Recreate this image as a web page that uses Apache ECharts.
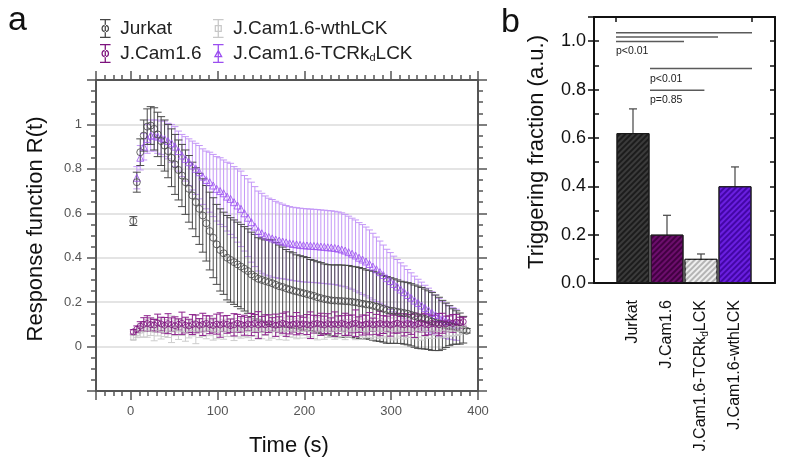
<!DOCTYPE html>
<html><head><meta charset="utf-8">
<script src="https://cdn.jsdelivr.net/npm/echarts@6/dist/echarts.min.js"></script>
<style>html,body{margin:0;padding:0;background:#fff}#c{width:787px;height:475px}</style>
</head><body><div id="c"></div>
<script>
// ---------- Panel a data ----------
const times = [3,7,11,15,19,23,27,31,35,39,43,47,51,55,59,63,67,71,75,79,83,87,91,95,99,103,107,111,115,119,123,127,131,135,139,143,147,151,155,159,163,167,171,175,179,183,187,191,195,199,203,207,211,215,219,223,227,231,235,239,243,247,251,255,259,263,267,271,275,279,283,287,291,295,299,303,307,311,315,319,323,327,331,335,339,343,347,351,355,359,363,367,371,375,379,383,387];

const jurkatVals = [
0.565,0.74,0.875,0.95,0.99,0.995,0.98,0.955,0.925,0.905,
0.88,0.85,0.82,0.795,0.77,0.74,0.71,0.68,0.65,0.62,
0.59,0.555,0.52,0.49,0.46,0.435,0.42,0.40,0.39,0.38,
0.37,0.36,0.35,0.34,0.325,0.315,0.305,0.30,0.295,0.29,
0.285,0.278,0.272,0.268,0.262,0.257,0.252,0.248,0.244,0.24,
0.236,0.232,0.228,0.222,0.218,0.214,0.211,0.208,0.207,0.206,
0.205,0.204,0.203,0.201,0.199,0.196,0.193,0.19,0.188,0.184,
0.18,0.175,0.17,0.165,0.162,0.16,0.157,0.154,0.151,0.148,
0.143,0.137,0.132,0.128,0.124,0.119,0.113,0.107,0.102,0.098,
0.096,0.094,0.09,0.086,0.081,0.076,0.071];
const jurkatErr = [
0.02,0.045,0.06,0.07,0.08,0.085,0.095,0.10,0.11,0.115,
0.12,0.13,0.135,0.135,0.14,0.145,0.15,0.15,0.155,0.16,
0.165,0.17,0.175,0.18,0.18,0.185,0.185,0.19,0.19,0.19,
0.19,0.19,0.19,0.19,0.19,0.19,0.185,0.185,0.185,0.19,
0.195,0.19,0.185,0.18,0.175,0.17,0.17,0.165,0.165,0.165,
0.165,0.16,0.16,0.16,0.16,0.158,0.158,0.16,0.16,0.162,
0.162,0.162,0.162,0.16,0.16,0.16,0.158,0.155,0.155,0.155,
0.155,0.152,0.15,0.15,0.148,0.145,0.143,0.14,0.14,0.14,
0.14,0.14,0.14,0.138,0.135,0.132,0.13,0.125,0.12,0.11,
0.10,0.09,0.08,0.075,0.07,0.06,0.01];

const jcamVals = [
0.066,0.078,0.092,0.100,0.104,0.099,0.097,0.106,0.102,0.096,
0.103,0.099,0.094,0.100,0.105,0.097,0.093,0.099,0.102,0.096,
0.100,0.104,0.098,0.095,0.101,0.097,0.103,0.100,0.094,0.098,
0.105,0.100,0.096,0.102,0.099,0.104,0.097,0.101,0.098,0.103,
0.100,0.096,0.099,0.105,0.101,0.097,0.100,0.103,0.098,0.102,
0.099,0.096,0.101,0.104,0.100,0.097,0.103,0.099,0.101,0.098,
0.104,0.100,0.096,0.102,0.105,0.099,0.097,0.101,0.103,0.098,
0.100,0.104,0.099,0.102,0.097,0.101,0.105,0.100,0.098,0.103,
0.100,0.096,0.102,0.106,0.100,0.098,0.104,0.101,0.099,0.105,
0.102,0.108,0.104,0.110,0.107,0.112,null];
const jcamErr = [
0.01,0.015,0.02,0.03,0.035,0.03,0.025,0.04,0.03,0.035,
0.045,0.03,0.04,0.025,0.05,0.035,0.03,0.045,0.04,0.03,
0.05,0.035,0.04,0.03,0.045,0.055,0.035,0.04,0.03,0.05,
0.04,0.035,0.045,0.03,0.05,0.04,0.06,0.035,0.045,0.04,
0.03,0.05,0.035,0.045,0.055,0.04,0.035,0.05,0.04,0.03,
0.045,0.06,0.04,0.035,0.05,0.04,0.045,0.03,0.055,0.04,
0.035,0.05,0.045,0.04,0.06,0.035,0.045,0.04,0.05,0.03,
0.045,0.055,0.04,0.035,0.05,0.04,0.045,0.035,0.05,0.04,
0.045,0.055,0.035,0.04,0.05,0.045,0.035,0.04,0.05,0.045,
0.035,0.03,0.04,0.035,0.025,0.02,null];

const wthVals = [
0.040,0.060,0.072,0.078,0.082,0.080,0.076,0.083,0.079,0.075,
0.081,0.078,0.084,0.077,0.080,0.074,0.079,0.083,0.078,0.081,
0.076,0.080,0.084,0.079,0.075,0.082,0.078,0.080,0.085,0.077,
0.079,0.083,0.076,0.080,0.078,0.082,0.079,0.075,0.081,0.084,
0.078,0.080,0.076,0.082,0.079,0.083,0.077,0.080,0.078,0.081,
0.084,0.079,0.076,0.080,0.082,0.078,0.081,0.077,0.083,0.079,
0.080,0.076,0.082,0.078,0.081,0.084,0.079,0.077,0.080,0.082,
0.078,0.081,0.079,0.076,0.083,0.080,0.078,0.082,0.079,0.081,
0.077,0.080,0.083,0.079,0.081,0.078,0.082,0.080,0.079,0.083,
0.081,0.078,0.082,0.080,0.079,0.081,null];
const wthErr = [
0.01,0.02,0.03,0.035,0.04,0.03,0.05,0.035,0.045,0.03,
0.04,0.06,0.035,0.045,0.03,0.05,0.04,0.035,0.065,0.04,
0.03,0.045,0.035,0.05,0.04,0.03,0.045,0.035,0.04,0.05,
0.035,0.045,0.03,0.04,0.05,0.035,0.045,0.04,0.03,0.055,
0.04,0.035,0.045,0.03,0.05,0.04,0.035,0.045,0.04,0.03,
0.045,0.035,0.04,0.05,0.03,0.045,0.04,0.035,0.05,0.04,
0.035,0.045,0.04,0.03,0.05,0.04,0.045,0.035,0.04,0.05,
0.035,0.045,0.04,0.03,0.045,0.05,0.04,0.035,0.045,0.04,
0.035,0.045,0.04,0.05,0.035,0.04,0.045,0.03,0.04,0.035,
0.04,0.03,0.035,0.03,0.025,0.02,null];

const tcrVals = [
null,0.76,0.85,0.90,0.935,0.95,0.95,0.945,0.94,0.935,
0.925,0.915,0.90,0.88,0.86,0.845,0.83,0.815,0.80,0.785,
0.765,0.75,0.74,0.725,0.71,0.70,0.69,0.675,0.665,0.65,
0.635,0.62,0.60,0.58,0.56,0.54,0.52,0.51,0.50,0.493,
0.487,0.482,0.477,0.473,0.469,0.465,0.462,0.46,0.458,0.456,
0.455,0.454,0.453,0.452,0.45,0.449,0.447,0.446,0.444,0.441,
0.437,0.432,0.425,0.418,0.41,0.40,0.392,0.383,0.372,0.36,
0.348,0.335,0.322,0.308,0.295,0.282,0.27,0.257,0.245,0.232,
0.22,0.207,0.196,0.185,0.174,0.163,0.152,0.142,0.132,0.123,
0.115,0.108,0.103,0.098,null,null,null];
const tcrErr = [
null,0.05,0.055,0.06,0.065,0.07,0.07,0.075,0.075,0.08,
0.08,0.085,0.09,0.09,0.095,0.10,0.105,0.11,0.115,0.12,
0.125,0.13,0.135,0.14,0.145,0.15,0.15,0.155,0.16,0.16,
0.165,0.17,0.17,0.175,0.18,0.18,0.18,0.18,0.178,0.175,
0.175,0.172,0.17,0.168,0.166,0.165,0.165,0.165,0.165,0.165,
0.165,0.165,0.165,0.165,0.165,0.165,0.165,0.165,0.165,0.165,
0.165,0.163,0.162,0.16,0.16,0.158,0.157,0.155,0.153,0.15,
0.145,0.14,0.135,0.13,0.128,0.125,0.122,0.12,0.118,0.115,
0.112,0.11,0.107,0.105,0.102,0.10,0.095,0.09,0.085,0.08,
0.078,0.075,0.072,0.07,null,null,null];

// ---------- Panel b data ----------
const barCategories = ['Jurkat','J.Cam1.6','J.Cam1.6-TCRkdLCK','J.Cam1.6-wthLCK'];
const barVals = [0.62, 0.20, 0.10, 0.40];
const barErr = [0.10, 0.08, 0.02, 0.08];
const sigFrom = [-0.5, -0.5, -0.5, 0.5, 0.5];
const sigTo = [3.5, 2.5, 1.5, 3.5, 2.1];
const sigY = [1.035, 1.017, 0.999, 0.887, 0.797];
const sigText = ['p<0.01', 'p<0.01', 'p=0.85'];
const sigTextX = [-0.5, 0.5, 0.5];
const sigTextY = [0.957, 0.845, 0.755];

// ---------- styles ----------
const FONT = '"Liberation Sans", Arial, Helvetica, sans-serif';
const AX = '#555';
const C_JUR = '#454545', C_JUR_E = '#4a4a4a';
const C_JCAM = '#7d127d', C_JCAM_E = '#8c218c';
const C_WTH = '#bdbdbd', C_WTH_E = '#cdcdcd';
const C_TCR = '#9b4ef0', C_TCR_E = '#c497f7';
const barFill = ['#3b3b3b', '#6c0e6c', '#b4b4b4', '#6a1fe0'];
const barHatch = ['#1c1c1c', '#420042', '#eeeeee', '#4306a6'];

function pts(vals) { const o = []; for (let i = 0; i < times.length; i++) if (vals[i] != null) o.push([times[i], vals[i]]); return o; }
function ebars(vals, e) { const o = []; for (let i = 0; i < times.length; i++) if (vals[i] != null && e[i] != null) o.push([times[i], vals[i] - e[i], vals[i] + e[i]]); return o; }
function errRender(capW, color, lw) {
  return function (params, api) {
    const x = api.value(0), lo = api.value(1), hi = api.value(2);
    const p1 = api.coord([x, lo]), p2 = api.coord([x, hi]);
    const h = capW / 2, st = { stroke: color, lineWidth: lw };
    return { type: 'group', children: [
      { type: 'line', shape: { x1: p1[0], y1: p1[1], x2: p2[0], y2: p2[1] }, style: st },
      { type: 'line', shape: { x1: p1[0] - h, y1: p1[1], x2: p1[0] + h, y2: p1[1] }, style: st },
      { type: 'line', shape: { x1: p2[0] - h, y1: p2[1], x2: p2[0] + h, y2: p2[1] }, style: st }
    ]};
  };
}
function errSeries(name, data, capW, color, lw) {
  return { type: 'custom', name, xAxisIndex: 0, yAxisIndex: 0, data, renderItem: errRender(capW, color, lw), silent: true, clip: true };
}
function ptSeries(name, data, symbol, size, color) {
  return { type: 'scatter', name, xAxisIndex: 0, yAxisIndex: 0, data, symbol, symbolSize: size,
    itemStyle: { color: 'rgba(0,0,0,0)', borderColor: color, borderWidth: 1 }, silent: true };
}

const icoCircle = 'path://M0,0H10V1.2H0Z M4.4,0H5.6V18H4.4Z M0,16.8H10V18H0Z M1.4,9A3.6,3.6 0 1,0 8.6,9A3.6,3.6 0 1,0 1.4,9Z M2.6,9A2.4,2.4 0 1,1 7.4,9A2.4,2.4 0 1,1 2.6,9Z';
const icoSquare = 'path://M0,0H10V1.2H0Z M4.4,0H5.6V18H4.4Z M0,16.8H10V18H0Z M1.6,5.6H8.4V12.4H1.6Z M2.8,6.8V11.2H7.2V6.8Z';
const icoTri = 'path://M0,0H10V1.2H0Z M4.4,0H5.6V18H4.4Z M0,16.8H10V18H0Z M5,5L9.2,12.6H0.8Z M5,7.4L2.9,11.4H7.1Z';

const subFmt = n => n === 'J.Cam1.6-TCRkdLCK' ? 'J.Cam1.6-TCRk{sub|d}LCK' : n;

const legendText = { fontSize: 19, color: '#222', fontFamily: FONT, rich: { sub: { fontSize: 11, fontFamily: FONT, color: '#222', verticalAlign: 'bottom', padding: [9, 0, 0, 0] } } };

const chart = echarts.init(document.getElementById('c'), null, { renderer: 'canvas' });
const option = {
  animation: false,
  backgroundColor: '#fff',
  grid: [
    { left: 96, right: 309, top: 80, bottom: 84 },
    { left: 594, right: 12, top: 17, bottom: 192 },
    { left: 616, width: 136, top: 17, bottom: 192 }
  ],
  legend: [
    { left: 95, top: 14, orient: 'vertical', itemWidth: 20, itemHeight: 19, itemGap: 6, selectedMode: false,
      textStyle: legendText, formatter: subFmt,
      data: [ { name: 'Jurkat', icon: icoCircle, itemStyle: { color: C_JUR, borderWidth: 0 } },
              { name: 'J.Cam1.6', icon: icoCircle, itemStyle: { color: C_JCAM, borderWidth: 0 } } ] },
    { left: 208, top: 14, orient: 'vertical', itemWidth: 20, itemHeight: 19, itemGap: 6, selectedMode: false,
      textStyle: legendText, formatter: subFmt,
      data: [ { name: 'J.Cam1.6-wthLCK', icon: icoSquare, itemStyle: { color: '#c8c8c8', borderWidth: 0 } },
              { name: 'J.Cam1.6-TCRkdLCK', icon: icoTri, itemStyle: { color: C_TCR, borderWidth: 0 } } ] }
  ],
  xAxis: [
    { gridIndex: 0, type: 'value', position: 'bottom', min: -40, max: 400, splitNumber: 5,
      axisLine: { onZero: false, lineStyle: { color: AX, width: 2 } },
      axisTick: { length: 9, lineStyle: { color: AX, width: 1.5 } },
      axisLabel: { margin: 14, fontSize: 13, color: '#555', fontFamily: FONT, formatter: v => v < 0 ? '' : String(v) },
      splitLine: { show: false } },
    { gridIndex: 0, type: 'value', position: 'bottom', min: -40, max: 400, interval: 10,
      axisLine: { show: false, onZero: false }, axisTick: { length: 5, lineStyle: { color: AX, width: 1.5 } },
      axisLabel: { show: false }, splitLine: { show: false } },
    { gridIndex: 0, type: 'value', position: 'top', min: -40, max: 400, splitNumber: 5,
      axisLine: { onZero: false, lineStyle: { color: AX, width: 2 } },
      axisTick: { length: 9, lineStyle: { color: AX, width: 1.5 } },
      axisLabel: { show: false }, splitLine: { show: false } },
    { gridIndex: 0, type: 'value', position: 'top', min: -40, max: 400, interval: 10,
      axisLine: { show: false, onZero: false }, axisTick: { length: 5, lineStyle: { color: AX, width: 1.5 } },
      axisLabel: { show: false }, splitLine: { show: false } },
    { gridIndex: 1, type: 'value', position: 'bottom', min: 0, max: 1,
      axisLine: { onZero: false, lineStyle: { color: '#111', width: 2 } }, axisTick: { show: false },
      axisLabel: { show: false }, splitLine: { show: false } },
    { gridIndex: 1, type: 'value', position: 'top', min: 0, max: 1,
      axisLine: { onZero: false, lineStyle: { color: '#111', width: 2 } }, axisTick: { show: false },
      axisLabel: { show: false }, splitLine: { show: false } },
    { gridIndex: 2, type: 'category', position: 'bottom', data: barCategories,
      axisLine: { show: false }, axisTick: { show: false },
      axisLabel: { rotate: 90, margin: 17, fontSize: 16, color: '#111', fontFamily: FONT, interval: 0, formatter: subFmt,
        rich: { sub: { fontSize: 10, fontFamily: FONT, color: '#111', verticalAlign: 'bottom', padding: [8, 0, 0, 0] } } } },
    { gridIndex: 2, type: 'category', position: 'top', data: barCategories,
      axisLine: { show: false }, axisTick: { show: true, inside: true, length: 5, lineStyle: { color: '#111', width: 1.5 } },
      axisLabel: { show: false } }
  ],
  yAxis: [
    { gridIndex: 0, type: 'value', position: 'left', min: -0.2, max: 1.2, interval: 0.2,
      axisLine: { onZero: false, lineStyle: { color: AX, width: 2 } },
      axisTick: { length: 9, lineStyle: { color: AX, width: 1.5 } },
      minorTick: { show: true, splitNumber: 4, length: 5, lineStyle: { color: AX, width: 1.5 } },
      axisLabel: { margin: 14, fontSize: 13, color: '#555', fontFamily: FONT,
        formatter: v => { const r = Math.round(v * 10) / 10; return (r < 0 || r > 1) ? '' : String(r); } },
      splitLine: { show: true, lineStyle: { color: '#e4e4e4', width: 2 } } },
    { gridIndex: 0, type: 'value', position: 'right', min: -0.2, max: 1.2, interval: 0.2,
      axisLine: { onZero: false, lineStyle: { color: AX, width: 2 } },
      axisTick: { length: 9, lineStyle: { color: AX, width: 1.5 } },
      minorTick: { show: true, splitNumber: 4, length: 5, lineStyle: { color: AX, width: 1.5 } },
      axisLabel: { show: false }, splitLine: { show: false } },
    { gridIndex: 1, type: 'value', position: 'left', min: 0, max: 1.1, interval: 0.2,
      axisLine: { onZero: false, lineStyle: { color: '#111', width: 2 } },
      axisTick: { length: 6, lineStyle: { color: '#111', width: 1.5 } },
      axisLabel: { margin: 8, fontSize: 18, color: '#111', fontFamily: FONT, formatter: v => v > 1.05 ? '' : v.toFixed(1) },
      splitLine: { show: false } },
    { gridIndex: 1, type: 'value', position: 'left', min: 0, max: 1.1, interval: 0.1,
      axisLine: { show: false, onZero: false }, axisTick: { inside: true, length: 5, lineStyle: { color: '#111', width: 1.5 } },
      axisLabel: { show: false }, splitLine: { show: false } },
    { gridIndex: 1, type: 'value', position: 'right', min: 0, max: 1.1, interval: 0.1,
      axisLine: { onZero: false, lineStyle: { color: '#111', width: 2 } },
      axisTick: { inside: true, length: 5, lineStyle: { color: '#111', width: 1.5 } },
      axisLabel: { show: false }, splitLine: { show: false } },
    { gridIndex: 2, type: 'value', min: 0, max: 1.1, show: false }
  ],
  series: [
    errSeries('J.Cam1.6-TCRkdLCK', ebars(tcrVals, tcrErr), 7, C_TCR_E, 1),
    errSeries('Jurkat', ebars(jurkatVals, jurkatErr), 8, C_JUR_E, 1),
    ptSeries('J.Cam1.6-TCRkdLCK', pts(tcrVals), 'triangle', 7, C_TCR),
    ptSeries('Jurkat', pts(jurkatVals), 'circle', 7, C_JUR),
    errSeries('J.Cam1.6-wthLCK', ebars(wthVals, wthErr), 7, C_WTH_E, 1),
    ptSeries('J.Cam1.6-wthLCK', pts(wthVals), 'rect', 5, C_WTH),
    errSeries('J.Cam1.6', ebars(jcamVals, jcamErr), 7, C_JCAM_E, 1),
    ptSeries('J.Cam1.6', pts(jcamVals), 'circle', 6, C_JCAM),
    { type: 'bar', xAxisIndex: 6, yAxisIndex: 5, barWidth: 33, silent: true,
      data: barVals.map((v, i) => ({ value: v, itemStyle: { color: barFill[i], borderColor: '#1a1a1a', borderWidth: 1,
        decal: { symbol: 'rect', symbolSize: 1, dashArrayX: [1, 0], dashArrayY: [1.2, 2], rotation: -Math.PI / 4, color: barHatch[i] } } })) },
    { type: 'custom', xAxisIndex: 6, yAxisIndex: 5, silent: true,
      data: barVals.map((v, i) => [i, v - barErr[i], v + barErr[i]]), renderItem: errRender(8, '#444', 1.2) },
    { type: 'custom', xAxisIndex: 6, yAxisIndex: 5, silent: true, clip: false,
      data: sigY.map((y, i) => [sigFrom[i], sigTo[i], y]),
      renderItem: function (params, api) {
        const i = params.dataIndex;
        const c = api.coord([0, sigY[i]]); const band = api.size([1, 0])[0];
        return { type: 'line', shape: { x1: c[0] + sigFrom[i] * band, y1: c[1], x2: c[0] + sigTo[i] * band, y2: c[1] },
          style: { stroke: '#5a5a5a', lineWidth: 1.5 } };
      } },
    { type: 'custom', xAxisIndex: 6, yAxisIndex: 5, silent: true, clip: false,
      data: sigText.map((t, i) => [sigTextX[i], sigTextY[i]]),
      renderItem: function (params, api) {
        const i = params.dataIndex;
        const c = api.coord([0, sigTextY[i]]); const band = api.size([1, 0])[0];
        return { type: 'text', x: c[0] + sigTextX[i] * band, y: c[1],
          style: { text: sigText[i], font: '10.5px ' + FONT, fill: '#222', align: 'left', verticalAlign: 'middle' } };
      } }
  ],
  graphic: [
    { type: 'text', x: 8, y: 21, style: { text: 'a', font: '34px ' + FONT, fill: '#111', align: 'left', verticalAlign: 'middle' } },
    { type: 'text', x: 501, y: 23, style: { text: 'b', font: '34px ' + FONT, fill: '#111', align: 'left', verticalAlign: 'middle' } },
    { type: 'text', x: 36, y: 229, rotation: Math.PI / 2, style: { text: 'Response function R(t)', font: '22px ' + FONT, fill: '#111', align: 'center', verticalAlign: 'middle' } },
    { type: 'text', x: 289, y: 446, style: { text: 'Time (s)', font: '22px ' + FONT, fill: '#111', align: 'center', verticalAlign: 'middle' } },
    { type: 'text', x: 537, y: 152, rotation: Math.PI / 2, style: { text: 'Triggering fraction (a.u.)', font: '22px ' + FONT, fill: '#111', align: 'center', verticalAlign: 'middle' } }
  ]
};
chart.setOption(option);
</script>
</body></html>
